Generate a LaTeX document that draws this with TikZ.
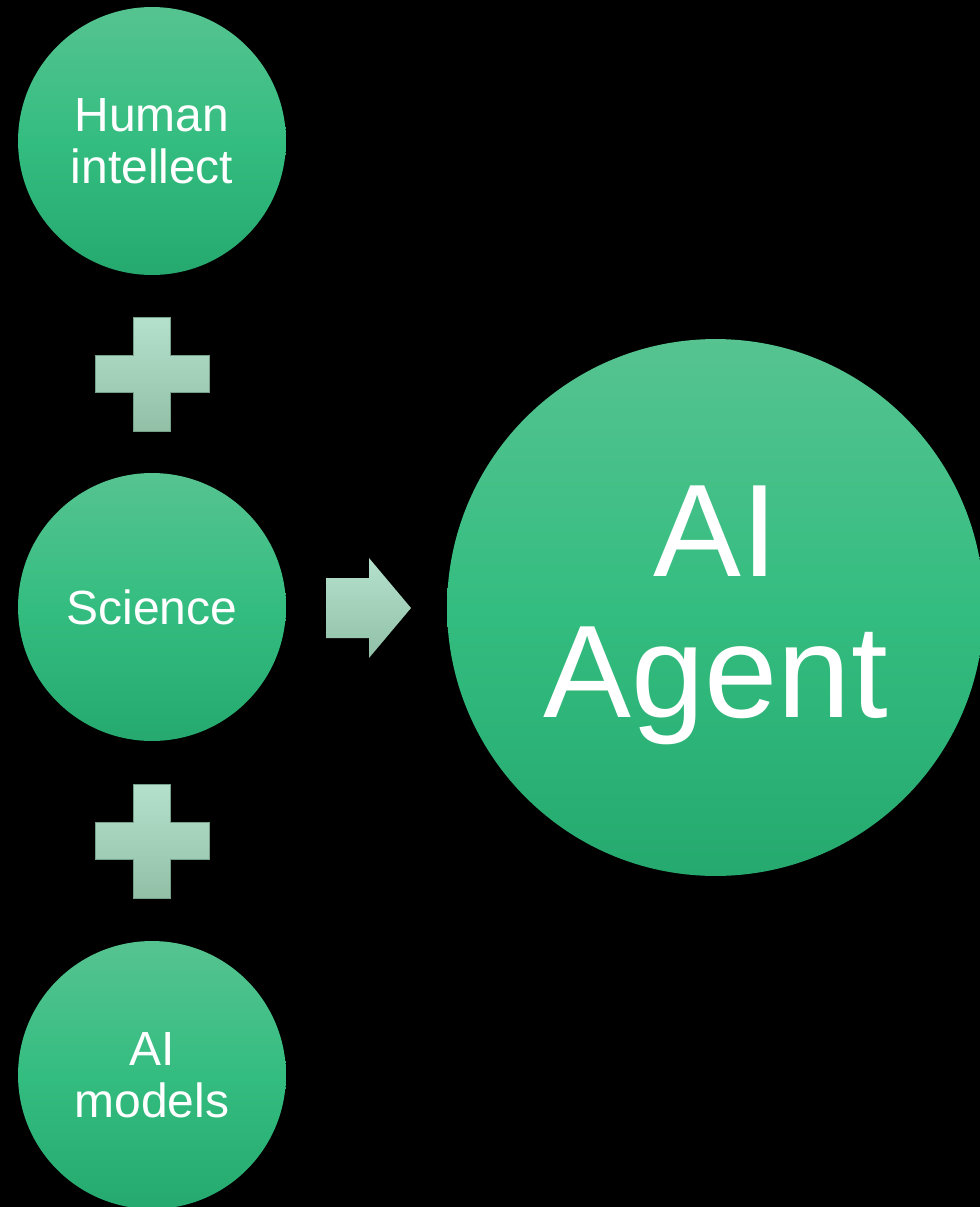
\documentclass[tikz,border=0pt]{standalone}
\usepackage{fontspec}
\setmainfont{Liberation Sans}
\usetikzlibrary{calc}
\definecolor{kreisOben}{RGB}{86,195,144}
\definecolor{kreisMitte}{RGB}{52,189,128}
\definecolor{kreisUnten}{RGB}{37,169,110}
\definecolor{zeichenOben}{RGB}{180,225,204}
\definecolor{zeichenUnten}{RGB}{145,192,167}
\definecolor{zeichenRand}{RGB}{118,160,138}

\begin{document}
\begin{tikzpicture}[x=0.02cm,y=-0.02cm,
  kreis/.style={circle,inner sep=0pt,text=white,align=center,
    top color=kreisOben,bottom color=kreisUnten,middle color=kreisMitte},
  zeichen/.style={top color=zeichenOben,bottom color=zeichenUnten}]
\fill[black] (0,0) rectangle (980,1207);
\useasboundingbox (0,0) rectangle (980,1207);
\coordinate (H) at (152,141);
\coordinate (S) at (152,607);
\coordinate (M) at (152,1075);
\coordinate (G) at (715.5,607.5);
\coordinate (P1) at (152,374);
\coordinate (P2) at (152,841);
\coordinate (Pf) at (326,608);
\def\plusB{18.5}
\def\plusA{38.5}
\node[kreis,minimum size=5.36cm,font=\fontsize{27.3}{29.5}\selectfont] (human) at (H) {Human\\intellect};
\node[kreis,minimum size=5.36cm,font=\fontsize{27.3}{29.5}\selectfont] (science) at (S) {Science};
\node[kreis,minimum size=5.36cm,font=\fontsize{27.3}{29.5}\selectfont] (models) at (M) {AI\\models};
\node[kreis,minimum size=10.74cm] (agent) at (G) {};
\node[text=white,align=center,yshift=-4.5pt,font=\fontsize{75}{80.5}\selectfont] (agenttext) at (agent) {AI\\Agent};
\foreach \p in {P1,P2}
  \draw[zeichen,draw=zeichenRand,line width=0.4pt] ($(\p)+(-\plusB,-\plusB-\plusA)$) -- ++(2*\plusB,0) -- ++(0,\plusA)
    -- ++(\plusA,0) -- ++(0,2*\plusB) -- ++(-\plusA,0) -- ++(0,\plusA) -- ++(-2*\plusB,0)
    -- ++(0,-\plusA) -- ++(-\plusA,0) -- ++(0,-2*\plusB) -- ++(\plusA,0) -- cycle;
\fill[zeichen] ($(Pf)+(0,-30)$) -- ++(43,0) -- ++(0,-20) -- ($(Pf)+(85,0)$)
  -- ($(Pf)+(43,50)$) -- ++(0,-20) -- ($(Pf)+(0,30)$) -- cycle;
\end{tikzpicture}
\end{document}
